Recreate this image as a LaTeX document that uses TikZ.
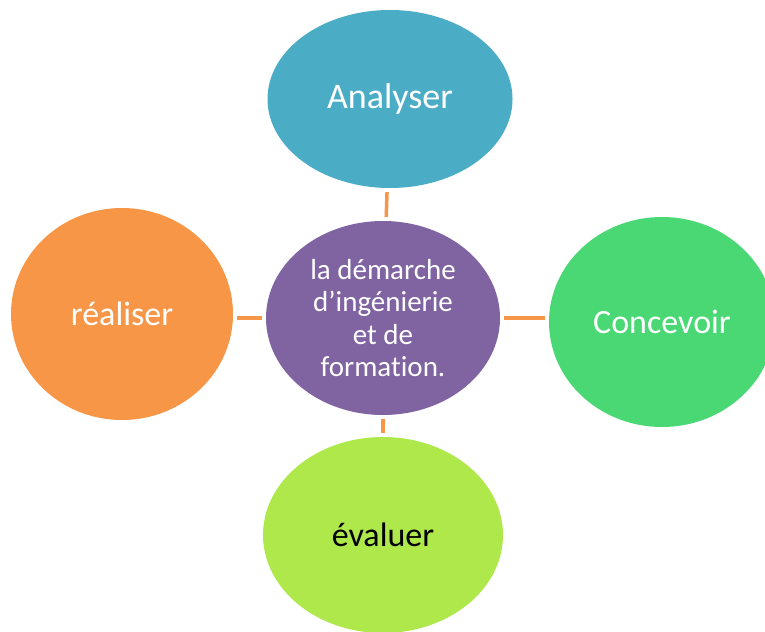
\documentclass[tikz,border=0pt]{standalone}
\usepackage{fontspec}
\setmainfont{Carlito}[Ligatures=NoCommon]
\usetikzlibrary{shapes.geometric}
\definecolor{bleu}{HTML}{4BACC6}
\definecolor{violet}{HTML}{8064A2}
\definecolor{orange}{HTML}{F79646}
\definecolor{vert}{HTML}{4AD874}
\definecolor{citron}{HTML}{AEE84A}
\tikzset{
  etape/.style={ellipse,inner sep=0pt,text=white,font=\fontsize{34bp}{40bp}\selectfont},
  lien/.style={draw=orange,line width=3.5bp,shorten <=4bp,shorten >=4bp}
}
\begin{document}
\begin{tikzpicture}[x=1bp,y=-1bp]
  \useasboundingbox (0,0) rectangle (765,632);
  \clip (0,0) rectangle (765,632);
  \node[etape,fill=bleu,minimum width=245bp,minimum height=178bp,font=\fontsize{36bp}{42bp}\selectfont] (an) at (390,99) {Analyser}; %Haut
  \node[etape,fill=violet,minimum width=234bp,minimum height=194bp,align=center,font=\fontsize{29bp}{32.5bp}\selectfont] (dm) at (383,318) {la démarche\\d’ingénierie\\et de\\formation.}; %Centre
  \node[etape,fill=orange,minimum width=222bp,minimum height=212bp] (re) at (122,314) {réaliser}; %Gauche
  \node[etape,fill=vert,minimum width=226bp,minimum height=210bp] (co) at (662,322) {Concevoir}; %Droite
  \node[etape,fill=citron,text=black,minimum width=240bp,minimum height=196bp] (ev) at (383,535) {évaluer}; %Bas
  \draw[lien] (an) -- (dm);
  \draw[lien] (dm.west) -- (re.east |- dm.west);
  \draw[lien] (dm.east) -- (co.west |- dm.east);
  \draw[lien] (dm.south) -- (ev.north);
\end{tikzpicture}
\end{document}
